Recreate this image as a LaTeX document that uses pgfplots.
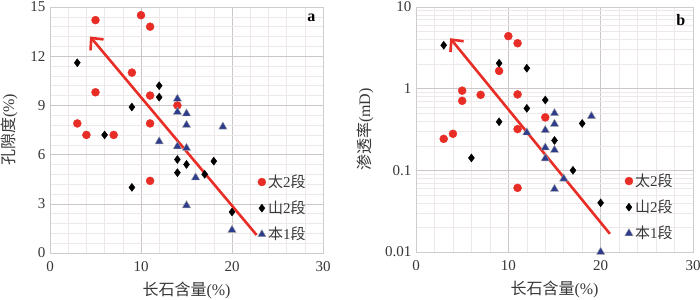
\documentclass[border=0pt]{standalone}
\usepackage{fontspec}
\setmainfont{Liberation Serif}
\newfontfamily\cjk{Noto Sans CJK SC}
\usepackage{pgfplots}
\pgfplotsset{compat=1.18}
\usetikzlibrary{arrows.meta}
\definecolor{myred}{RGB}{232,45,38}
\definecolor{myblue}{RGB}{45,60,140}
\definecolor{majgrid}{RGB}{205,198,198}
\definecolor{mingrid}{RGB}{238,232,232}
\definecolor{frame}{RGB}{205,205,205}
\definecolor{txt}{RGB}{55,55,55}
\pgfplotsset{
  common/.style={
    scale only axis,
    xmin=0, xmax=30, xtick={0,10,20,30},
    minor x tick num=4,
    grid=both,
    major grid style={draw=majgrid, line width=0.6pt},
    minor grid style={draw=mingrid, line width=0.5pt},
    axis line style={draw=frame, line width=0.8pt},
    tick style={draw=none},
    tick label style={font=\fontsize{15bp}{17bp}\selectfont, text=txt},
    xticklabel style={yshift=-5bp},
    yticklabel style={xshift=-1bp},
    /pgf/number format/assume math mode=true,
    label style={font=\fontsize{16bp}{18bp}\selectfont, text=txt},
    xlabel={{\cjk 长石含量}(\%)},
    xlabel style={at={(axis description cs:0.5,-0.152)}, anchor=center},
    legend style={draw=none, fill=none, font=\fontsize{15bp}{17bp}\selectfont, text=txt,
      row sep=8bp, at={(axis description cs:0.955,0.03)}, anchor=south east},
    legend cell align=left,
    clip=false,
  },
  redm/.style={only marks, mark=*, mark size=4bp, mark options={fill=myred, draw=myred}},
  blkm/.style={only marks, mark=diamond*, mark size=4bp, mark options={fill=black, draw=black}},
  blum/.style={only marks, mark=triangle*, mark size=4.8bp, mark options={fill=myblue, draw=gray!70, line width=0.4pt}},
  arr/.style={myred, line width=2.6bp, -{Straight Barb[length=9bp, width=17bp]}, forget plot},
}
\begin{document}
\begin{tikzpicture}
\useasboundingbox (0,0) rectangle (700bp,300bp);
% ---------- panel a ----------
\begin{axis}[common,
  at={(50bp,47bp)}, anchor=south west,
  width=273bp, height=246bp,
  ymin=0, ymax=15, ytick={0,3,6,9,12,15},
  minor y tick num=4,
  ylabel={{\cjk 孔隙度}(\%)},
  ylabel style={at={(axis description cs:-0.15,0.5)}, anchor=center},
]
\addplot[redm] coordinates {
(5,14.2) (10,14.5) (11,13.8) (9,11) (5,9.8) (11,9.6) (14,9) (3,7.9) (4,7.2) (7,7.2) (11,7.9) (11,4.4)
};
\addlegendentry{{\cjk 太}2{\cjk 段}}
\addplot[blkm] coordinates {
(3,11.6) (12,10.2) (12,9.5) (9,8.9) (6,7.2) (14,5.7) (15,5.4) (18,5.6) (14,4.9) (17,4.8) (9,4.0) (20,2.5)
};
\addlegendentry{{\cjk 山}2{\cjk 段}}
\addplot[blum] coordinates {
(14,9.4) (14,8.6) (15,8.5) (15,7.8) (19,7.7) (12,6.8) (14,6.5) (15,6.4) (16,4.6) (15,2.9) (20,1.4)
};
\addlegendentry{{\cjk 本}1{\cjk 段}}
\addplot[arr] coordinates {(22.7,1.1) (4.4,13.2)};
\node[anchor=north east, font=\fontsize{16bp}{18bp}\selectfont\bfseries] at (rel axis cs:0.985,0.985) {a};
\end{axis}
% ---------- panel b ----------
\begin{axis}[common,
  at={(416bp,48bp)}, anchor=south west,
  width=277bp, height=245bp,
  ymode=log, ymin=0.01, ymax=10,
  ytick={0.01,0.1,1,10}, yticklabels={0.01,0.1,1,10},
  ylabel={{\cjk 渗透率}(mD)},
  ylabel style={at={(axis description cs:-0.184,0.5)}, anchor=center},
  legend style={at={(axis description cs:0.945,0.03)}},
]
\addplot[redm] coordinates {
(10,4.4) (11,3.6) (9,1.65) (5,0.945) (5,0.71) (7,0.84) (11,0.85) (14,0.445) (11,0.32) (4,0.28) (3,0.243) (11,0.061)
};
\addlegendentry{{\cjk 太}2{\cjk 段}}
\addplot[blkm] coordinates {
(3,3.4) (9,2.05) (12,1.78) (14,0.726) (12,0.574) (9,0.393) (18,0.375) (15,0.232) (6,0.142) (17,0.1) (20,0.04)
};
\addlegendentry{{\cjk 山}2{\cjk 段}}
\addplot[blum] coordinates {
(15,0.5) (19,0.46) (15,0.37) (14,0.31) (12,0.29) (14,0.19) (15,0.177) (14,0.14) (16,0.079) (15,0.059) (20,0.01)
};
\addlegendentry{{\cjk 本}1{\cjk 段}}
\addplot[arr] coordinates {(21,0.0167) (3.7,4.15)};
\node[anchor=north east, font=\fontsize{16bp}{18bp}\selectfont\bfseries] at (rel axis cs:0.985,0.985) {b};
\end{axis}
\end{tikzpicture}
\end{document}
